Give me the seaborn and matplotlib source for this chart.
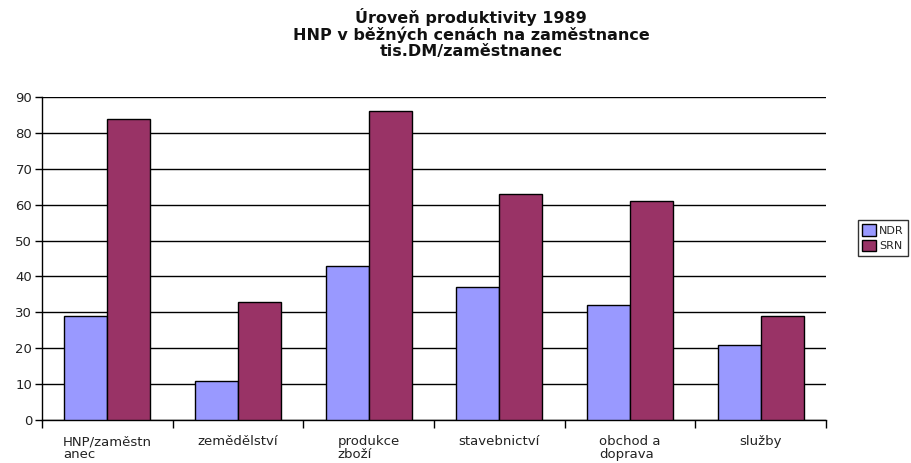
import matplotlib
matplotlib.use("Agg")
import matplotlib.pyplot as plt
import seaborn as sns
import pandas as pd
import numpy as np
from matplotlib.patches import Patch

categories = ["HNP/zaměstn\nanec", "zemědělství", "produkce\nzboží", "stavebnictví", "obchod a\ndoprava", "služby"]
ndr = [29, 11, 43, 37, 32, 21]
srn = [84, 33, 86, 63, 61, 29]
series = ["NDR", "SRN"]
colors = ["#9999FF", "#993366"]
yticks = [0, 10, 20, 30, 40, 50, 60, 70, 80, 90]

df = pd.DataFrame({
    "cat": categories * 2,
    "val": ndr + srn,
    "ser": [series[0]] * len(categories) + [series[1]] * len(categories),
})

sns.set_style("white")
plt.rcParams['font.family'] = ['DejaVu Sans']

fig = plt.figure(figsize=(9.12, 4.63), dpi=100)
ax = fig.add_axes([42/912, 1-420/463, (826-42)/912, (420-97)/463])

sns.barplot(data=df, x="cat", y="val", hue="ser", palette=colors, width=0.66,
            saturation=1, edgecolor="black", linewidth=1.0, ax=ax, legend=False, zorder=3)

ax.set_ylim(0, 90)
ax.set_xlim(-0.5, len(categories) - 0.5)
ax.set_yticks(yticks)
ax.set_yticklabels([str(v) for v in yticks], fontsize=9.5, color="#222222")
ax.yaxis.grid(True, color="black", linewidth=1.0, zorder=0)
ax.set_axisbelow(True)
ax.set_xlabel("")
ax.set_ylabel("")
for s in ["top", "right"]:
    ax.spines[s].set_visible(False)
for s in ["left", "bottom"]:
    ax.spines[s].set_color("black")
    ax.spines[s].set_linewidth(1.0)
ax.tick_params(axis="y", which="major", length=5, width=1.0, color="black", direction="out", left=True, pad=2)
ax.tick_params(axis="x", which="major", length=0, pad=11)
ax.set_xticks(np.arange(-0.5, len(categories), 1.0), minor=True)
ax.tick_params(axis="x", which="minor", length=6, width=1.0, color="black", direction="out", bottom=True)
ax.set_xticks(range(len(categories)))
ax.set_xticklabels(categories, fontsize=9.5, ha="center", multialignment="left", linespacing=0.95, color="#222222")

fig.text(471/912, 1-8/463, "Úroveň produktivity 1989\nHNP v běžných cenách na zaměstnance\ntis.DM/zaměstnanec",
         ha="center", va="top", fontsize=11.5, fontweight="bold", linespacing=1.07, color="#111111")

handles = [Patch(facecolor=c, edgecolor="black", linewidth=1.0, label=s) for c, s in zip(colors, series)]
leg = fig.legend(handles=handles, loc="upper left", bbox_to_anchor=(858/912, 1-220/463),
                 fontsize=8, frameon=True, fancybox=False, edgecolor="black",
                 handlelength=1.2, handleheight=1.2, handletextpad=0.3, borderpad=0.4,
                 labelspacing=0.35, borderaxespad=0)
leg.get_frame().set_linewidth(1.0)

fig.savefig("out.png", dpi=100)
